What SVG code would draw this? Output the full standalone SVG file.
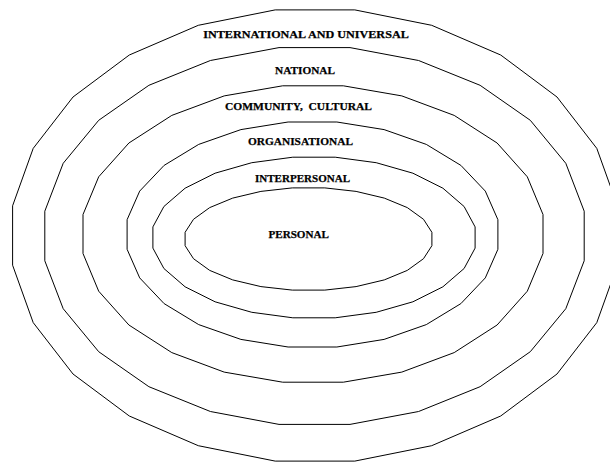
<svg xmlns="http://www.w3.org/2000/svg" width="610" height="464" viewBox="0 0 610 464">
<style>
.ring{fill:none;stroke:#000;stroke-width:1;stroke-linejoin:miter}
.lbl{font-family:"Liberation Serif","Times New Roman",serif;font-weight:bold;font-size:11.4px;fill:#000;stroke:#000;stroke-width:0.25;text-anchor:middle;white-space:pre}
</style>
<rect width="610" height="464" fill="#fff"/>
<g id="international">
<polygon class="ring" points="617.4,265.2 596.8,322.6 557,374 500.7,416 431.7,445.7 354.8,461.1 275.2,461.1 198.3,445.7 129.3,416 73,374 33.2,322.6 12.6,265.2 12.6,205.8 33.2,148.4 73,97 129.3,55 198.3,25.3 275.2,9.9 354.8,9.9 431.7,25.3 500.7,55 557,97 596.8,148.4 617.4,205.8"/>
<text class="lbl" x="306" y="38.3" textLength="205.5" lengthAdjust="spacingAndGlyphs">INTERNATIONAL AND UNIVERSAL</text>
</g>
<g id="national">
<polygon class="ring" points="584.2,260.8 565.8,308.7 530.3,351.7 480.1,386.7 418.6,411.5 350,424.4 279,424.4 210.4,411.5 148.9,386.7 98.7,351.7 63.2,308.7 44.8,260.8 44.8,211.2 63.2,163.3 98.7,120.3 148.9,85.3 210.4,60.5 279,47.6 350,47.6 418.6,60.5 480.1,85.3 530.3,120.3 565.8,163.3 584.2,211.2"/>
<text class="lbl" x="305" y="73.5" textLength="60" lengthAdjust="spacingAndGlyphs">NATIONAL</text>
</g>
<g id="community">
<polygon class="ring" points="543,253.5 527.3,291.2 497.1,325 454.2,352.6 401.8,372.1 343.3,382.2 282.7,382.2 224.2,372.1 171.8,352.6 128.9,325 98.7,291.2 83,253.5 83,214.5 98.7,176.8 128.9,143 171.8,115.4 224.2,95.9 282.7,85.8 343.3,85.8 401.8,95.9 454.2,115.4 497.1,143 527.3,176.8 543,214.5"/>
<text class="lbl" x="298.5" y="110.2" textLength="147" lengthAdjust="spacingAndGlyphs">COMMUNITY,  CULTURAL</text>
</g>
<g id="organisational">
<polygon class="ring" points="497.9,249.3 485.3,277.9 460.9,303.6 426.3,324.6 384.1,339.4 336.9,347 288.1,347 240.9,339.4 198.7,324.6 164.1,303.6 139.7,277.9 127.1,249.3 127.1,219.7 139.7,191.1 164.1,165.4 198.7,144.4 240.9,129.6 288.1,122 336.9,122 384.1,129.6 426.3,144.4 460.9,165.4 485.3,191.1 497.9,219.7"/>
<text class="lbl" x="300.5" y="144.5" textLength="105" lengthAdjust="spacingAndGlyphs">ORGANISATIONAL</text>
</g>
<g id="interpersonal">
<polygon class="ring" points="475.1,248.1 464.1,268.5 442.9,286.8 412.9,301.8 376.2,312.3 335.2,317.8 292.8,317.8 251.8,312.3 215.1,301.8 185.1,286.8 163.9,268.5 152.9,248.1 152.9,226.9 163.9,206.5 185.1,188.2 215.1,173.2 251.8,162.7 292.8,157.2 335.2,157.2 376.2,162.7 412.9,173.2 442.9,188.2 464.1,206.5 475.1,226.9"/>
<text class="lbl" x="302.5" y="181.6" textLength="95" lengthAdjust="spacingAndGlyphs">INTERPERSONAL</text>
</g>
<g id="personal">
<polygon class="ring" points="431.9,245.7 423.5,258.7 407.3,270.4 384.3,279.9 356.1,286.6 324.8,290.1 292.3,290.1 260.9,286.6 232.7,279.9 209.7,270.4 193.5,258.7 185.1,245.7 185.1,232.3 193.5,219.3 209.7,207.6 232.7,198.1 260.9,191.4 292.3,187.9 324.8,187.9 356.1,191.4 384.3,198.1 407.3,207.6 423.5,219.3 431.9,232.3"/>
<text class="lbl" x="298.7" y="238" textLength="60.5" lengthAdjust="spacingAndGlyphs">PERSONAL</text>
</g>
</svg>
